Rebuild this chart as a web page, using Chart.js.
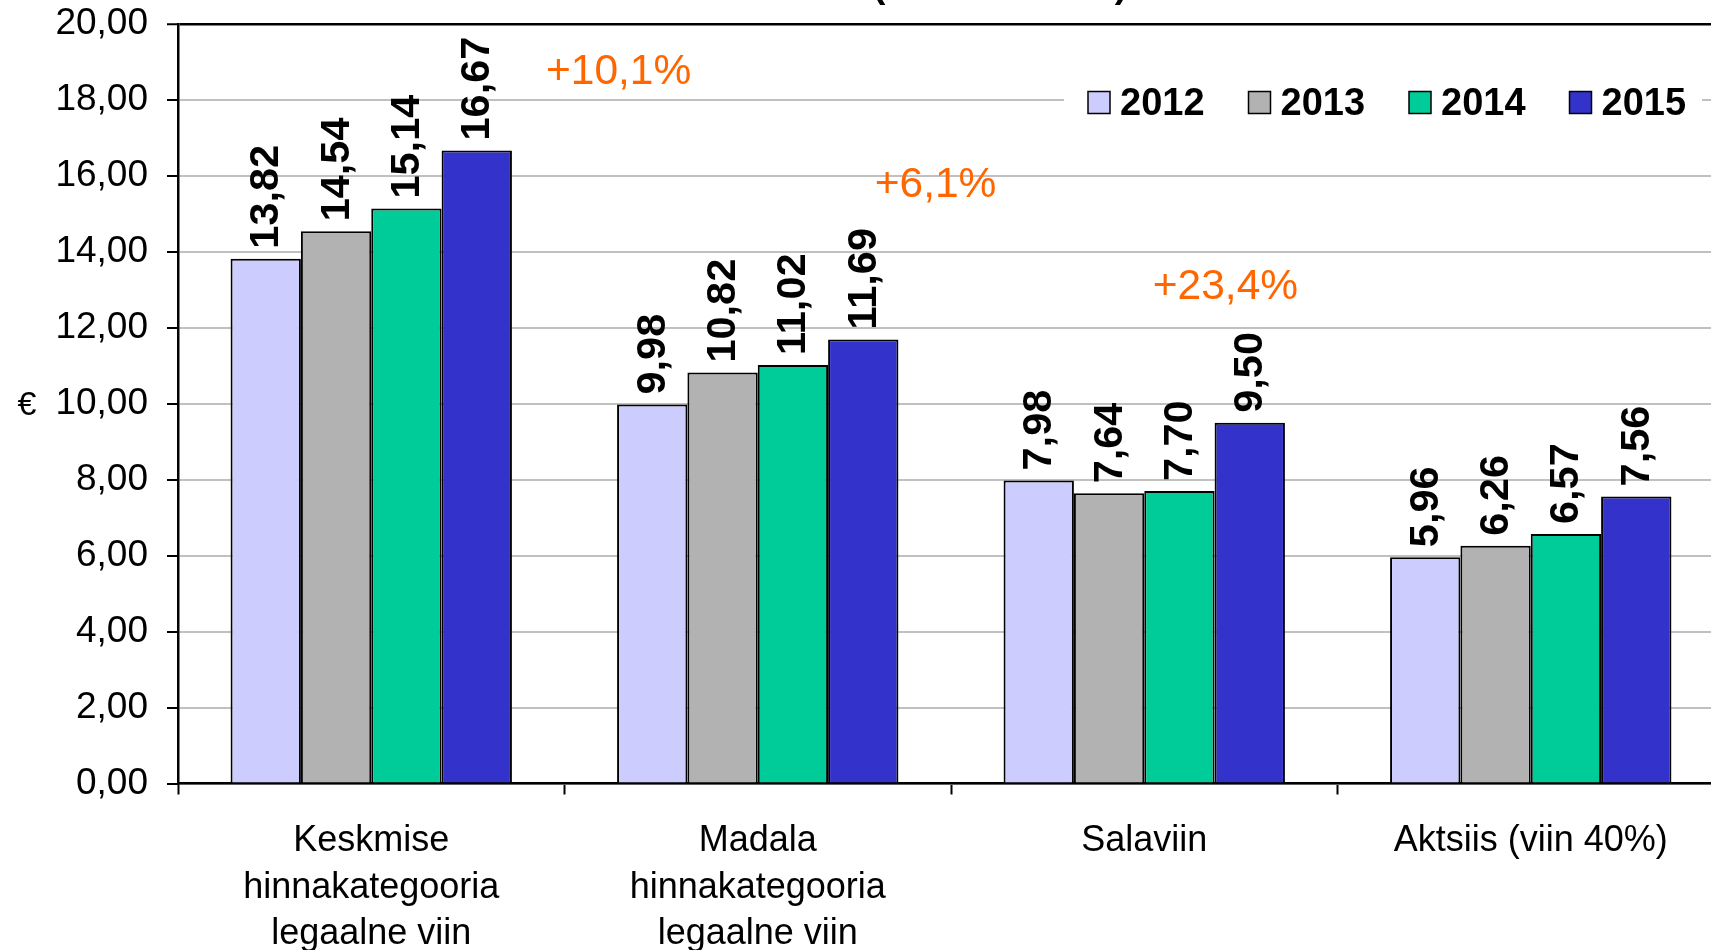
<!DOCTYPE html>
<html><head><meta charset="utf-8">
<script src="https://cdn.jsdelivr.net/npm/chart.js@4/dist/chart.umd.min.js"></script>
<style>
html,body{margin:0;padding:0;overflow:hidden;background:#fff;width:1711px;height:950px}
#wrap{position:absolute;left:0;top:0;width:1760px;height:950px}
canvas{display:block}
</style></head>
<body><div id="wrap"><canvas id="c" width="1760" height="950"></canvas></div>
<script>
// ---- data ----
const categories = [["Keskmise","hinnakategooria","legaalne viin"],["Madala","hinnakategooria","legaalne viin"],["Salaviin"],["Aktsiis (viin 40%)"]];
const years = ["2012","2013","2014","2015"];
const values2012 = [13.82, 9.98, 7.98, 5.96];
const values2013 = [14.54, 10.82, 7.64, 6.26];
const values2014 = [15.14, 11.02, 7.70, 6.57];
const values2015 = [16.67, 11.69, 9.50, 7.56];
const seriesColors = ["#CCCCFF","#B2B2B2","#00CC99","#3333CC"];
const changeLabels = ["+10,1%","+6,1%","+23,4%"];
const changeAtCategory = [0.64, 1.46, 2.21];
const changeAtValue = [18.74, 15.75, 13.08];
const yAxisTitle = "€";
const yMin = 0, yMax = 20, yStep = 2;

const FONT = "'Liberation Sans', Arial, sans-serif";
const fmt = v => v.toFixed(2).replace('.', ',');

const seriesValues = [values2012, values2013, values2014, values2015];
const datasets = years.map((y, i) => ({
  label: y,
  data: seriesValues[i],
  backgroundColor: seriesColors[i],
  borderColor: '#000',
  borderWidth: 2,
  borderSkipped: 'start',
  categoryPercentage: 0.728,
  barPercentage: 1.0
}));

const overlay = {
  id: 'overlay',
  afterDatasetsDraw(chart) {
    const ctx = chart.ctx;
    ctx.save();
    ctx.font = "bold 41.5px " + FONT;
    ctx.fillStyle = '#000';
    ctx.textAlign = 'left';
    ctx.textBaseline = 'middle';
    chart.data.datasets.forEach((ds, di) => {
      chart.getDatasetMeta(di).data.forEach((bar, i) => {
        ctx.save();
        ctx.translate(bar.x + 1, bar.y - 10);
        ctx.rotate(-Math.PI / 2);
        ctx.fillText(fmt(ds.data[i]), 0, 0);
        ctx.restore();
      });
    });
    const xs = chart.scales.x, ys = chart.scales.y;
    ctx.font = "42.5px " + FONT;
    ctx.fillStyle = '#FF6600';
    ctx.textAlign = 'center';
    changeLabels.forEach((t, i) => {
      const px = xs.getPixelForValue(0) + changeAtCategory[i] * (xs.getPixelForValue(1) - xs.getPixelForValue(0));
      const py = ys.getPixelForValue(changeAtValue[i]);
      ctx.fillText(t, px, py);
    });
    ctx.restore();
  },
  afterDraw(chart) {
    const ctx = chart.ctx;
    ctx.save();
    ctx.font = "34px " + FONT;
    ctx.fillStyle = '#000';
    ctx.textAlign = 'center';
    ctx.textBaseline = 'middle';
    const ys = chart.scales.y;
    ctx.fillText(yAxisTitle, 27, (ys.top + ys.bottom) / 2 + 2);
    ctx.fillStyle = '#fff';
    ctx.fillRect(1064, 80, 638, 46);
    ctx.font = "bold 38px " + FONT;
    ctx.textAlign = 'left';
    chart.data.datasets.forEach((ds, i) => {
      const bx = 1088 + i * 160.5;
      ctx.fillStyle = ds.backgroundColor;
      ctx.fillRect(bx, 91.5, 22, 22);
      ctx.strokeStyle = '#000';
      ctx.lineWidth = 1.5;
      ctx.strokeRect(bx, 91.5, 22, 22);
      ctx.fillStyle = '#000';
      ctx.fillText(ds.label, bx + 32, 105);
    });
    ctx.font = "bold 38px " + FONT;
    ctx.textBaseline = 'alphabetic';
    ctx.textAlign = 'center';
    ctx.fillText("(", 879, -3);
    ctx.fillText(")", 1121, -3);
    ctx.restore();
  }
};

new Chart(document.getElementById('c'), {
  type: 'bar',
  data: { labels: categories, datasets },
  options: {
    responsive: false,
    animation: false,
    devicePixelRatio: 1,
    layout: { padding: { top: 24, right: 36, left: 0, bottom: 0 } },
    plugins: { legend: { display: false }, title: { display: false }, tooltip: { enabled: false } },
    scales: {
      x: {
        grid: { drawOnChartArea: false, drawTicks: true, tickLength: 11, tickColor: '#000', tickWidth: 2, offset: true },
        border: { color: '#000', width: 2.5 },
        ticks: { color: '#000', font: { family: FONT, size: 36, lineHeight: 1.28 }, padding: 24, maxRotation: 0, autoSkip: false },
        afterFit(s) { s.height = 166.5; s.paddingLeft = 0; s.paddingRight = 0; }
      },
      y: {
        min: yMin, max: yMax,
        grid: {
          color: c => (c.tick && c.tick.value === yMax) ? '#000' : '#C0C0C0',
          lineWidth: c => (c.tick && c.tick.value === yMax) ? 2.5 : 2,
          tickLength: 11, tickColor: '#000', tickWidth: 2
        },
        border: { color: '#000', width: 2.5 },
        ticks: { stepSize: yStep, color: '#000', font: { family: FONT, size: 37 }, padding: 19, callback: v => fmt(v) },
        afterFit(s) { s.width = 178; s.paddingTop = 0; s.paddingBottom = 0; }
      }
    }
  },
  plugins: [overlay]
});
</script>
</body></html>
